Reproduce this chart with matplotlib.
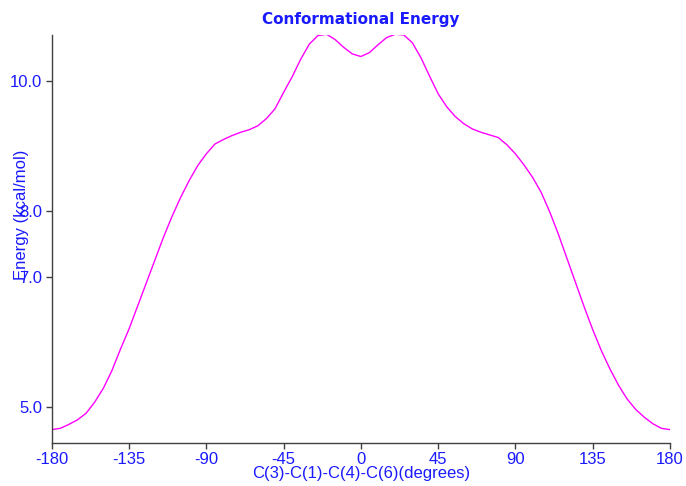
import matplotlib
matplotlib.use("Agg")
import matplotlib.pyplot as plt

angles = list(range(-180, 181, 5))
energy = [
    4.66, 4.68, 4.74, 4.81, 4.91, 5.08, 5.29, 5.56, 5.89, 6.20,
    6.55, 6.90, 7.25, 7.60, 7.92, 8.21, 8.47, 8.70, 8.88, 9.03,
    9.10, 9.16, 9.21, 9.25, 9.31, 9.42, 9.57, 9.82, 10.06, 10.33,
    10.56, 10.69, 10.71, 10.63, 10.51, 10.41, 10.37,
    10.43, 10.55, 10.66, 10.71, 10.70, 10.58, 10.35, 10.07, 9.80,
    9.60, 9.45, 9.34, 9.26, 9.21, 9.17, 9.13, 9.02, 8.88, 8.71,
    8.52, 8.29, 7.99, 7.65, 7.28, 6.91, 6.54, 6.19, 5.87, 5.59,
    5.34, 5.13, 4.97, 4.85, 4.75, 4.68, 4.66,
]
x_ticks = [-180, -135, -90, -45, 0, 45, 90, 135, 180]
y_ticks = [5.0, 7.0, 8.0, 10.0]

blue = "#1a1aff"
plt.rcParams['font.family'] = ['Liberation Sans', 'DejaVu Sans']

fig = plt.figure(figsize=(6.86, 4.86), dpi=100)
ax = fig.add_axes([0.0754, 0.0891, 0.9013, 0.839])
ax.plot(angles, energy, color="#ff00ff", linewidth=1.0)

ax.set_xlim(-180, 180)
ax.set_ylim(4.46, 10.70)
ax.set_xticks(x_ticks)
ax.set_xticklabels([str(t) for t in x_ticks])
ax.set_yticks(y_ticks)
ax.set_yticklabels([f"{t:.1f}" for t in y_ticks])

for s in ["top", "right"]:
    ax.spines[s].set_visible(False)
for s in ["left", "bottom"]:
    ax.spines[s].set_color("#404040")
    ax.spines[s].set_linewidth(1.0)
ax.tick_params(colors="#404040", labelcolor=blue, labelsize=12, length=4, width=1, pad=3)

ax.set_xlabel("C(3)-C(1)-C(4)-C(6)(degrees)", color=blue, fontsize=12, labelpad=-1)
ax.set_ylabel("Energy (kcal/mol)", color=blue, fontsize=12)
ax.yaxis.set_label_coords(-0.036, 0.56)
fig.text(0.526, 0.96, "Conformational Energy", color=blue, fontsize=11,
         fontweight="bold", family="DejaVu Sans", ha="center", va="center")

fig.savefig("out.png", dpi=100)
